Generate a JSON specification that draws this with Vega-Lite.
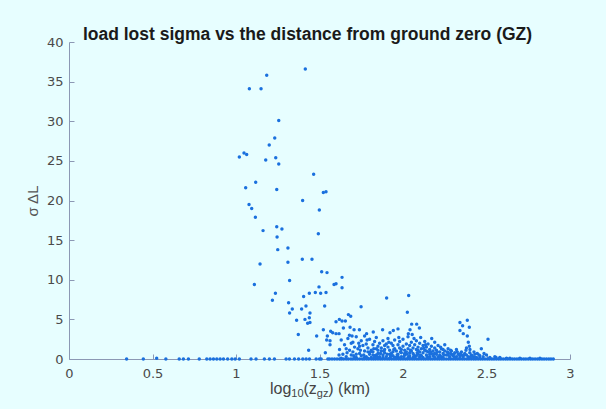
{
  "$schema": "https://vega.github.io/schema/vega-lite/v6.json",
  "width": 501,
  "height": 317,
  "autosize": "none",
  "padding": {"left": 69, "top": 42, "right": 36, "bottom": 50},
  "background": "#E7FEFF",
  "config": {"view": {"stroke": null}, "font": "Liberation Sans",
    "axisX": {"values": [0, 0.5, 1, 1.5, 2, 2.5, 3], "format": "~g", "grid": false, "domainColor": "#8C98B4", "tickColor": "#8C98B4", "tickSize": -5, "labelPadding": 13, "labelFont": "DejaVu Sans", "labelFontSize": 13, "labelColor": "#4a4a4a", "labelFlush": false, "labelOverlap": false},
    "axisY": {"grid": false, "domainColor": "#8C98B4", "tickColor": "#8C98B4", "tickSize": -5, "labelPadding": 11, "labelFont": "DejaVu Sans", "labelFontSize": 13, "labelColor": "#4a4a4a", "labelOverlap": false, "labelFlush": false, "titleFont": "Liberation Sans", "titleFontSize": 15, "titleFontWeight": "normal", "titleColor": "#555555", "titleX": -32, "titleY": 158.5, "titleBaseline": "alphabetic", "titleAngle": -90}
  },
  "title": {"text": "load lost sigma vs the distance from ground zero (GZ)", "font": "Liberation Sans", "fontSize": 17.5, "fontWeight": "bold", "color": "#1a1a1a", "offset": -7, "dx": -12},
  "datasets": {
    "pts": [
      {"x":1.415,"y":36.6},{"x":1.184,"y":35.8},{"x":1.080,"y":34.1},{"x":1.150,"y":34.1},{"x":1.256,"y":30.1},{"x":1.232,"y":27.9},{"x":1.199,"y":27.0},{"x":1.048,"y":26.0},{"x":1.064,"y":25.8},{"x":1.020,"y":25.5},{"x":1.178,"y":25.1},{"x":1.238,"y":25.4},{"x":1.256,"y":24.6},{"x":1.465,"y":23.3},{"x":1.118,"y":22.3},{"x":1.058,"y":21.6},{"x":1.244,"y":21.4},{"x":1.523,"y":21.0},{"x":1.539,"y":21.1},{"x":1.399,"y":20.0},{"x":1.078,"y":19.5},{"x":1.094,"y":19.0},{"x":1.499,"y":18.8},{"x":1.116,"y":17.9},{"x":1.244,"y":16.7},{"x":1.275,"y":16.4},{"x":1.162,"y":16.2},{"x":1.246,"y":15.4},{"x":1.493,"y":15.8},{"x":1.311,"y":14.0},{"x":1.250,"y":13.8},{"x":1.397,"y":12.6},{"x":1.455,"y":12.6},{"x":1.144,"y":12.0},{"x":1.311,"y":12.2},{"x":1.513,"y":11.0},{"x":1.545,"y":10.9},{"x":1.635,"y":10.3},{"x":1.110,"y":9.4},{"x":1.321,"y":9.9},{"x":1.497,"y":9.1},{"x":1.587,"y":9.4},{"x":1.599,"y":9.5},{"x":1.635,"y":9.0},
      {"x":1.236,"y":8.3},{"x":1.439,"y":8.3},{"x":1.475,"y":8.4},{"x":1.507,"y":8.3},{"x":1.539,"y":8.4},{"x":1.405,"y":7.9},{"x":1.218,"y":7.4},{"x":1.315,"y":7.1},{"x":1.531,"y":6.7},{"x":1.419,"y":6.7},{"x":1.393,"y":6.3},{"x":1.337,"y":6.3},{"x":1.749,"y":6.6},{"x":1.902,"y":7.7},{"x":2.034,"y":8.0},{"x":2.026,"y":5.9},{"x":1.321,"y":5.8},{"x":1.443,"y":5.8},{"x":1.439,"y":5.2},{"x":1.413,"y":5.0},{"x":1.363,"y":4.9},{"x":1.443,"y":4.6},{"x":1.429,"y":4.5},{"x":1.599,"y":4.7},{"x":1.619,"y":5.0},{"x":1.635,"y":4.8},{"x":1.655,"y":4.8},{"x":1.673,"y":5.6},{"x":1.687,"y":5.4},{"x":1.523,"y":3.7},{"x":1.567,"y":3.5},{"x":1.579,"y":3.3},{"x":1.599,"y":3.2},{"x":1.617,"y":3.2},{"x":1.373,"y":3.1},{"x":1.483,"y":2.9},{"x":1.547,"y":2.9},{"x":1.543,"y":2.4},{"x":1.563,"y":2.3},{"x":1.563,"y":1.8},{"x":1.435,"y":1.1},{"x":1.535,"y":0.8},{"x":1.617,"y":0.5},{"x":1.643,"y":3.9},{"x":1.683,"y":4.0},{"x":1.707,"y":3.7},{"x":1.739,"y":3.7},{"x":1.679,"y":3.0},{"x":1.695,"y":2.9},{"x":1.782,"y":3.2},{"x":1.822,"y":3.4},{"x":1.878,"y":3.7},{"x":1.922,"y":3.3},{"x":1.942,"y":3.6},{"x":1.970,"y":3.8},{"x":2.032,"y":3.2},{"x":2.052,"y":4.4},{"x":2.082,"y":4.4},{"x":2.098,"y":3.9},{"x":2.042,"y":3.7},{"x":2.066,"y":2.6},{"x":2.106,"y":2.7},{"x":2.172,"y":2.6},{"x":2.341,"y":4.6},{"x":2.385,"y":4.9},{"x":2.357,"y":4.2},{"x":2.397,"y":4.0},{"x":2.341,"y":3.6},{"x":2.361,"y":3.2},{"x":2.385,"y":2.9},{"x":2.391,"y":2.1},{"x":2.397,"y":1.6},{"x":2.401,"y":1.2},{"x":2.377,"y":1.1},{"x":2.469,"y":1.3},{"x":2.509,"y":2.5},{"x":2.445,"y":0.7},{"x":2.557,"y":0.2},
      {"x":1.62,"y":1.2},{"x":1.63,"y":2.4},{"x":1.64,"y":0.6},{"x":1.65,"y":1.8},{"x":1.66,"y":0.3},{"x":1.67,"y":2.6},{"x":1.68,"y":1.1},{"x":1.69,"y":0.5},{"x":1.70,"y":2.1},{"x":1.70,"y":0.9},{"x":1.71,"y":1.5},{"x":1.72,"y":0.2},{"x":1.72,"y":2.8},{"x":1.73,"y":1.3},{"x":1.74,"y":0.7},{"x":1.75,"y":2.3},{"x":1.75,"y":0.4},{"x":1.76,"y":1.7},{"x":1.77,"y":1.0},{"x":1.77,"y":2.9},{"x":1.78,"y":0.3},{"x":1.78,"y":1.9},{"x":1.79,"y":1.4},{"x":1.80,"y":0.6},{"x":1.80,"y":2.5},{"x":1.81,"y":1.1},{"x":1.81,"y":0.2},{"x":1.82,"y":1.8},{"x":1.82,"y":0.9},{"x":1.83,"y":2.2},{"x":1.83,"y":0.4},{"x":1.84,"y":1.3},{"x":1.84,"y":2.7},{"x":1.85,"y":0.7},{"x":1.85,"y":1.6},{"x":1.86,"y":0.3},{"x":1.86,"y":2.0},{"x":1.87,"y":1.0},{"x":1.87,"y":1.4},{"x":1.88,"y":0.5},{"x":1.88,"y":2.3},{"x":1.89,"y":1.2},{"x":1.89,"y":0.8},{"x":1.90,"y":1.9},{"x":1.90,"y":0.3},{"x":1.91,"y":1.5},{"x":1.91,"y":2.6},{"x":1.92,"y":0.6},{"x":1.92,"y":1.1},{"x":1.93,"y":2.0},{"x":1.93,"y":0.4},{"x":1.94,"y":1.7},{"x":1.94,"y":0.9},{"x":1.95,"y":2.4},{"x":1.95,"y":1.3},{"x":1.96,"y":0.2},{"x":1.96,"y":1.0},{"x":1.97,"y":1.8},{"x":1.97,"y":0.6},{"x":1.98,"y":2.2},{"x":1.98,"y":1.4},{"x":1.99,"y":0.8},{"x":1.99,"y":0.3},{"x":2.00,"y":1.6},{"x":2.00,"y":2.5},{"x":2.01,"y":1.1},{"x":2.01,"y":0.5},{"x":2.02,"y":1.9},{"x":2.02,"y":0.9},{"x":2.03,"y":1.3},{"x":2.03,"y":2.8},{"x":2.04,"y":0.4},{"x":2.04,"y":1.7},{"x":2.05,"y":1.0},{"x":2.05,"y":2.1},{"x":2.06,"y":0.7},{"x":2.06,"y":1.4},{"x":2.07,"y":0.3},{"x":2.07,"y":1.8},{"x":2.08,"y":1.2},{"x":2.08,"y":2.3},{"x":2.09,"y":0.6},{"x":2.09,"y":1.5},{"x":2.10,"y":0.9},{"x":2.10,"y":2.0},{"x":2.11,"y":0.4},{"x":2.11,"y":1.3},{"x":2.12,"y":1.7},{"x":2.12,"y":0.8},{"x":2.13,"y":1.1},{"x":2.13,"y":2.2},{"x":2.14,"y":0.5},{"x":2.14,"y":1.5},{"x":2.15,"y":0.9},{"x":2.15,"y":1.9},{"x":2.16,"y":0.3},{"x":2.16,"y":1.2},{"x":2.17,"y":0.7},{"x":2.17,"y":1.6},{"x":2.18,"y":1.0},{"x":2.18,"y":0.4},{"x":2.19,"y":1.4},{"x":2.19,"y":2.1},{"x":2.20,"y":0.6},{"x":2.20,"y":1.1},{"x":2.21,"y":0.3},{"x":2.21,"y":1.7},{"x":2.22,"y":0.9},{"x":2.22,"y":0.5},{"x":2.23,"y":1.3},{"x":2.24,"y":0.7},{"x":2.24,"y":0.2},{"x":2.25,"y":1.0},{"x":2.25,"y":1.8},{"x":2.26,"y":0.5},{"x":2.27,"y":0.8},{"x":2.27,"y":1.3},{"x":2.28,"y":0.3},{"x":2.29,"y":0.6},{"x":2.29,"y":1.0},{"x":2.30,"y":0.4},{"x":2.31,"y":0.8},{"x":2.32,"y":0.3},{"x":2.32,"y":1.2},{"x":2.33,"y":0.6},{"x":2.34,"y":0.4},{"x":2.35,"y":0.9},{"x":2.36,"y":0.3},{"x":2.37,"y":0.7},{"x":2.38,"y":0.5},{"x":2.38,"y":1.4},{"x":2.39,"y":0.3},{"x":2.40,"y":0.8},{"x":2.41,"y":0.5},{"x":2.42,"y":0.3},{"x":2.43,"y":0.6},{"x":2.44,"y":0.2},{"x":2.46,"y":0.4},{"x":2.48,"y":0.3},{"x":2.50,"y":0.5},{"x":2.52,"y":0.2},{"x":2.55,"y":0.3},{"x":2.58,"y":0.2},{"x":2.62,"y":0.1},{"x":1.66,"y":1.3},{"x":1.69,"y":2.0},{"x":1.74,"y":1.6},{"x":1.79,"y":0.9},{"x":1.84,"y":0.5},{"x":1.89,"y":1.7},{"x":1.94,"y":0.4},{"x":1.99,"y":1.2},{"x":2.04,"y":0.8},{"x":2.09,"y":1.1},{"x":2.14,"y":1.0},{"x":2.19,"y":0.7},{"x":2.24,"y":1.2},{"x":2.03,"y":0.2},{"x":1.97,"y":0.3},{"x":2.08,"y":0.4},{"x":2.12,"y":0.2},{"x":2.16,"y":0.6},{"x":1.93,"y":0.7},{"x":1.88,"y":0.2},{"x":1.85,"y":1.1},{"x":2.01,"y":0.7},{"x":2.06,"y":0.2},{"x":2.10,"y":0.3},{"x":2.23,"y":0.3},{"x":2.27,"y":0.5},{"x":2.31,"y":0.2},{"x":2.35,"y":0.5},{"x":1.82,"y":0.5},{"x":1.77,"y":0.2},{"x":1.72,"y":0.6},
      {"x":1.665,"y":0.8},{"x":1.705,"y":0.4},{"x":1.745,"y":1.1},{"x":1.765,"y":0.5},{"x":1.805,"y":0.9},{"x":1.825,"y":1.3},{"x":1.845,"y":0.3},{"x":1.865,"y":0.7},{"x":1.885,"y":1.0},{"x":1.905,"y":0.6},{"x":1.925,"y":0.3},{"x":1.945,"y":1.2},{"x":1.965,"y":0.5},{"x":1.985,"y":0.9},{"x":2.005,"y":0.3},{"x":2.025,"y":0.6},{"x":2.045,"y":1.1},{"x":2.065,"y":0.5},{"x":2.085,"y":0.8},{"x":2.105,"y":0.5},{"x":2.125,"y":1.4},{"x":2.145,"y":0.3},{"x":2.165,"y":0.9},{"x":2.185,"y":0.6},{"x":2.205,"y":0.9},{"x":2.225,"y":0.2},{"x":2.245,"y":0.5},{"x":2.265,"y":0.9},{"x":2.285,"y":0.7},{"x":2.305,"y":0.6},{"x":2.325,"y":0.9},{"x":2.345,"y":0.7},{"x":2.365,"y":0.5},{"x":2.405,"y":0.3},{"x":2.425,"y":0.9},{"x":1.915,"y":2.1},{"x":1.975,"y":2.7},{"x":2.055,"y":3.1},{"x":2.135,"y":1.8},{"x":1.735,"y":2.0},{"x":1.785,"y":2.4},{"x":2.225,"y":1.5},{"x":2.285,"y":1.1},{"x":2.455,"y":0.5},{"x":2.485,"y":0.7},
      {"x":0.345,"y":0},{"x":0.445,"y":0},{"x":0.525,"y":0.1},{"x":0.58,"y":0},{"x":0.66,"y":0},{"x":0.685,"y":0},{"x":0.715,"y":0},{"x":0.78,"y":0},{"x":0.825,"y":0},{"x":0.845,"y":0},{"x":0.865,"y":0},{"x":0.885,"y":0},{"x":0.905,"y":0},{"x":0.925,"y":0},{"x":0.95,"y":0},{"x":0.975,"y":0},{"x":0.995,"y":0},{"x":1.02,"y":0},{"x":1.09,"y":0},{"x":1.12,"y":0},{"x":1.17,"y":0},{"x":1.20,"y":0},{"x":1.23,"y":0},{"x":1.30,"y":0},{"x":1.32,"y":0},{"x":1.35,"y":0},{"x":1.375,"y":0},{"x":1.40,"y":0},{"x":1.42,"y":0},{"x":1.44,"y":0},{"x":1.48,"y":0},{"x":1.50,"y":0},{"x":1.51,"y":0},{"x":1.55,"y":0},
      {"x":1.56,"y":0},{"x":1.575,"y":0},{"x":1.59,"y":0},{"x":1.605,"y":0},{"x":1.62,"y":0},{"x":1.632,"y":0},{"x":1.645,"y":0},{"x":1.66,"y":0},{"x":1.673,"y":0},{"x":1.688,"y":0},{"x":1.70,"y":0},{"x":1.714,"y":0},{"x":1.727,"y":0},{"x":1.741,"y":0},{"x":1.756,"y":0},{"x":1.768,"y":0},{"x":1.782,"y":0},{"x":1.795,"y":0},{"x":1.81,"y":0},{"x":1.823,"y":0},{"x":1.836,"y":0},{"x":1.85,"y":0},{"x":1.864,"y":0},{"x":1.877,"y":0},{"x":1.891,"y":0},{"x":1.905,"y":0},{"x":1.918,"y":0},{"x":1.932,"y":0},{"x":1.946,"y":0},{"x":1.959,"y":0},{"x":1.973,"y":0},{"x":1.986,"y":0},{"x":2.0,"y":0},{"x":2.014,"y":0},{"x":2.027,"y":0},{"x":2.041,"y":0},{"x":2.055,"y":0},{"x":2.068,"y":0},{"x":2.082,"y":0},{"x":2.095,"y":0},{"x":2.109,"y":0},{"x":2.123,"y":0},{"x":2.136,"y":0},{"x":2.15,"y":0},{"x":2.164,"y":0},{"x":2.177,"y":0},{"x":2.191,"y":0},{"x":2.205,"y":0},{"x":2.218,"y":0},{"x":2.232,"y":0},{"x":2.245,"y":0},{"x":2.259,"y":0},{"x":2.273,"y":0},{"x":2.286,"y":0},{"x":2.3,"y":0},{"x":2.314,"y":0},{"x":2.327,"y":0},{"x":2.341,"y":0},{"x":2.355,"y":0},{"x":2.368,"y":0},{"x":2.382,"y":0},{"x":2.395,"y":0},{"x":2.409,"y":0},{"x":2.423,"y":0},{"x":2.436,"y":0},{"x":2.45,"y":0},{"x":2.464,"y":0},{"x":2.477,"y":0},{"x":2.491,"y":0},{"x":2.505,"y":0},{"x":2.518,"y":0},{"x":2.532,"y":0},{"x":2.545,"y":0},{"x":2.559,"y":0},{"x":2.573,"y":0},{"x":2.586,"y":0},{"x":2.6,"y":0},{"x":2.614,"y":0},{"x":2.627,"y":0},{"x":2.641,"y":0},{"x":2.655,"y":0},{"x":2.668,"y":0},{"x":2.682,"y":0},{"x":2.695,"y":0},{"x":2.709,"y":0},{"x":2.723,"y":0},{"x":2.736,"y":0},{"x":2.75,"y":0},{"x":2.764,"y":0},{"x":2.777,"y":0},{"x":2.791,"y":0},{"x":2.805,"y":0},{"x":2.818,"y":0},{"x":2.832,"y":0},{"x":2.845,"y":0},{"x":2.859,"y":0},{"x":2.873,"y":0},{"x":2.886,"y":0},{"x":2.9,"y":0},
      {"x":1.63,"y":0.1},{"x":1.71,"y":0.1},{"x":1.79,"y":0.1},{"x":1.86,"y":0.1},{"x":1.92,"y":0.1},{"x":1.98,"y":0.1},{"x":2.04,"y":0.1},{"x":2.1,"y":0.1},{"x":2.16,"y":0.1},{"x":2.22,"y":0.1},{"x":2.28,"y":0.1},{"x":2.34,"y":0.1},{"x":2.4,"y":0.1},{"x":2.46,"y":0.1},{"x":2.52,"y":0.1},{"x":2.58,"y":0.1},{"x":2.64,"y":0.1},{"x":2.7,"y":0.1},{"x":2.76,"y":0.1},{"x":2.82,"y":0.1},{"x":1.83,"y":0.2},{"x":1.95,"y":0.2},{"x":2.07,"y":0.2},{"x":2.19,"y":0.2},{"x":2.31,"y":0.2},{"x":2.43,"y":0.2}
    ]
  },
  "layer": [
    {
      "data": {"name": "pts"},
      "mark": {"type": "point", "filled": true, "size": 12, "opacity": 1, "color": "#1A70DE"},
      "encoding": {
        "x": {"field": "x", "type": "quantitative", "scale": {"domain": [0, 3], "nice": false}, "axis": {"title": null, "values": [0, 0.5, 1, 1.5, 2, 2.5, 3]}},
        "y": {"field": "y", "type": "quantitative", "scale": {"domain": [0, 40], "nice": false}, "axis": {"title": "σ ΔL", "values": [0, 5, 10, 15, 20, 25, 30, 35, 40]}}
      }
    },
    {"data": {"values": [{}]}, "mark": {"type": "text", "text": "log", "align": "left", "baseline": "middle", "fontSize": 16, "color": "#444444", "font": "Liberation Sans"}, "encoding": {"x": {"datum": 1.204, "axis": {"title": null, "values": [0, 0.5, 1, 1.5, 2, 2.5, 3]}}, "y": {"datum": -3.79, "axis": {"title": "σ ΔL", "values": [0, 5, 10, 15, 20, 25, 30, 35, 40]}}}},
    {"data": {"values": [{}]}, "mark": {"type": "text", "text": "10", "align": "left", "baseline": "middle", "fontSize": 11, "color": "#444444", "font": "Liberation Sans"}, "encoding": {"x": {"datum": 1.331, "axis": {"title": null, "values": [0, 0.5, 1, 1.5, 2, 2.5, 3]}}, "y": {"datum": -4.42, "axis": {"title": "σ ΔL", "values": [0, 5, 10, 15, 20, 25, 30, 35, 40]}}}},
    {"data": {"values": [{}]}, "mark": {"type": "text", "text": "(z", "align": "left", "baseline": "middle", "fontSize": 16, "color": "#444444", "font": "Liberation Sans"}, "encoding": {"x": {"datum": 1.404, "axis": {"title": null, "values": [0, 0.5, 1, 1.5, 2, 2.5, 3]}}, "y": {"datum": -3.79, "axis": {"title": "σ ΔL", "values": [0, 5, 10, 15, 20, 25, 30, 35, 40]}}}},
    {"data": {"values": [{}]}, "mark": {"type": "text", "text": "gz", "align": "left", "baseline": "middle", "fontSize": 11, "color": "#444444", "font": "Liberation Sans"}, "encoding": {"x": {"datum": 1.484, "axis": {"title": null, "values": [0, 0.5, 1, 1.5, 2, 2.5, 3]}}, "y": {"datum": -4.42, "axis": {"title": "σ ΔL", "values": [0, 5, 10, 15, 20, 25, 30, 35, 40]}}}},
    {"data": {"values": [{}]}, "mark": {"type": "text", "text": ") (km)", "align": "left", "baseline": "middle", "fontSize": 16, "color": "#444444", "font": "Liberation Sans"}, "encoding": {"x": {"datum": 1.553, "axis": {"title": null, "values": [0, 0.5, 1, 1.5, 2, 2.5, 3]}}, "y": {"datum": -3.79, "axis": {"title": "σ ΔL", "values": [0, 5, 10, 15, 20, 25, 30, 35, 40]}}}}
  ]
}
